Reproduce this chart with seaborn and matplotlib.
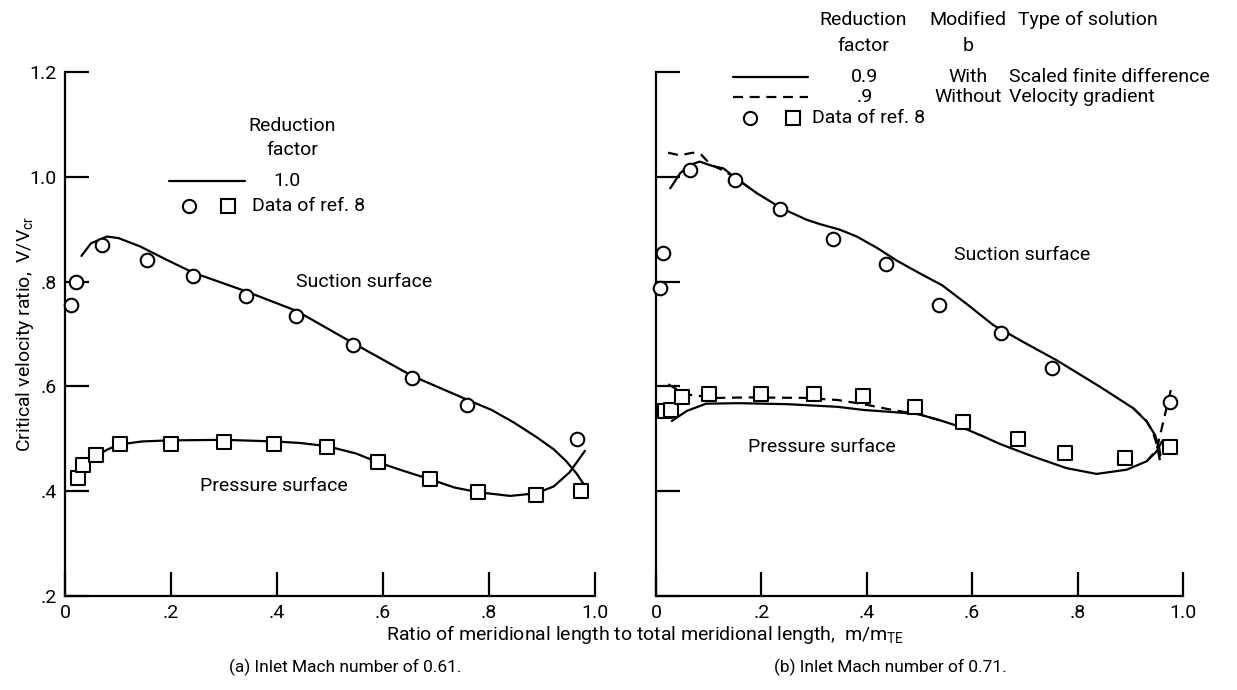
import matplotlib
matplotlib.use("Agg")
import matplotlib.pyplot as plt
import seaborn as sns
import pandas as pd

sns.set_style("ticks")
plt.rcParams["font.family"] = ["Roboto", "DejaVu Sans"]
for key in ("text.color", "axes.labelcolor", "xtick.color", "ytick.color", "axes.edgecolor"):
    plt.rcParams[key] = "black"

# ---------------- data: (a) inlet Mach number 0.61 ----------------
a_suction_x = [0.031, 0.049, 0.079, 0.101, 0.142, 0.191, 0.242, 0.340, 0.437,
               0.543, 0.655, 0.758, 0.805, 0.847, 0.890, 0.922, 0.945, 0.965, 0.981]
a_suction_y = [0.849, 0.873, 0.886, 0.883, 0.867, 0.842, 0.817, 0.782, 0.744,
               0.683, 0.620, 0.575, 0.555, 0.531, 0.503, 0.480, 0.458, 0.434, 0.410]
a_pressure_x = [0.027, 0.042, 0.057, 0.079, 0.101, 0.146, 0.198, 0.300, 0.395,
                0.444, 0.494, 0.549, 0.591, 0.638, 0.688, 0.735, 0.780, 0.840,
                0.889, 0.922, 0.952, 0.981]
a_pressure_y = [0.428, 0.453, 0.466, 0.479, 0.489, 0.495, 0.497, 0.498, 0.495,
                0.492, 0.486, 0.472, 0.455, 0.439, 0.423, 0.407, 0.398, 0.391,
                0.396, 0.409, 0.436, 0.477]
a_circle_x = [0.012, 0.021, 0.070, 0.155, 0.242, 0.342, 0.435, 0.543, 0.655,
              0.758, 0.966]
a_circle_y = [0.756, 0.800, 0.869, 0.841, 0.811, 0.772, 0.734, 0.679, 0.616,
              0.564, 0.499]
a_square_x = [0.025, 0.034, 0.058, 0.103, 0.200, 0.300, 0.395, 0.494, 0.591,
              0.688, 0.780, 0.889, 0.974]
a_square_y = [0.426, 0.450, 0.469, 0.490, 0.491, 0.494, 0.491, 0.484, 0.455,
              0.423, 0.399, 0.393, 0.400]

# ---------------- data: (b) inlet Mach number 0.71 ----------------
b_suction_x = [0.027, 0.046, 0.065, 0.083, 0.106, 0.128, 0.152, 0.191, 0.238,
               0.286, 0.310, 0.349, 0.381, 0.420, 0.457, 0.500, 0.543, 0.590,
               0.640, 0.700, 0.760, 0.843, 0.906, 0.931, 0.947, 0.955, 0.957]
b_suction_y = [0.978, 1.007, 1.023, 1.029, 1.021, 1.016, 0.997, 0.969, 0.940,
               0.918, 0.910, 0.899, 0.886, 0.864, 0.840, 0.816, 0.793, 0.757,
               0.717, 0.683, 0.650, 0.599, 0.558, 0.533, 0.507, 0.482, 0.468]
b_pressure_x = [0.030, 0.058, 0.095, 0.158, 0.251, 0.345, 0.394, 0.450, 0.498,
                0.540, 0.580, 0.620, 0.653, 0.716, 0.779, 0.836, 0.893, 0.931,
                0.950, 0.960]
b_pressure_y = [0.534, 0.553, 0.567, 0.568, 0.566, 0.561, 0.555, 0.551, 0.547,
                0.535, 0.522, 0.505, 0.490, 0.466, 0.444, 0.433, 0.441, 0.457,
                0.476, 0.495]
# "without modified b" solution where it departs from the solid curves
b_suction_dash_lead_x = [0.023, 0.045, 0.070, 0.086, 0.104, 0.128, 0.152, 0.191]
b_suction_dash_lead_y = [1.046, 1.041, 1.046, 1.042, 1.023, 1.012, 0.997, 0.969]
b_suction_dash_tail_x = [0.906, 0.930, 0.942, 0.950, 0.957]
b_suction_dash_tail_y = [0.558, 0.535, 0.515, 0.490, 0.455]
b_pressure_dash_lead_x = [0.023, 0.052, 0.064, 0.114, 0.176, 0.283, 0.345,
                          0.394, 0.454, 0.498, 0.540]
b_pressure_dash_lead_y = [0.604, 0.587, 0.584, 0.578, 0.579, 0.578, 0.574,
                          0.566, 0.554, 0.547, 0.535]
b_pressure_dash_tail_x = [0.931, 0.950, 0.962, 0.979]
b_pressure_dash_tail_y = [0.457, 0.479, 0.530, 0.602]
b_circle_x = [0.007, 0.014, 0.065, 0.150, 0.236, 0.335, 0.437, 0.537, 0.654,
              0.752, 0.975]
b_circle_y = [0.787, 0.855, 1.013, 0.994, 0.939, 0.882, 0.834, 0.755, 0.702,
              0.636, 0.571]
b_square_x = [0.018, 0.029, 0.050, 0.100, 0.199, 0.299, 0.392, 0.492, 0.582,
              0.686, 0.777, 0.890, 0.975]
b_square_y = [0.553, 0.555, 0.580, 0.585, 0.586, 0.586, 0.581, 0.561, 0.533,
              0.499, 0.472, 0.463, 0.485]

x_ticks = [0.0, 0.2, 0.4, 0.6, 0.8, 1.0]
x_tick_labels = ["0", ".2", ".4", ".6", ".8", "1.0"]
y_ticks = [0.2, 0.4, 0.6, 0.8, 1.0, 1.2]
y_tick_labels = [".2", ".4", ".6", ".8", "1.0", "1.2"]

W, H = 1237, 690
FS = 14
LW = 1.6
DASH = (0, (4.5, 3))

fig = plt.figure(figsize=(W / 100, H / 100), dpi=100)
ax_a = fig.add_axes([65 / W, (H - 596) / H, 530 / W, 524 / H])
ax_b = fig.add_axes([656 / W, (H - 596) / H, 527 / W, 524 / H])


def curve(ax, xs, ys, dashed=False):
    df = pd.DataFrame({"x": xs, "y": ys})
    sns.lineplot(data=df, x="x", y="y", ax=ax, sort=False, estimator=None,
                 color="black", lw=LW, linestyle=DASH if dashed else "-",
                 zorder=2, clip_on=False)


def points(ax, xs, ys, marker):
    df = pd.DataFrame({"x": xs, "y": ys})
    sns.scatterplot(data=df, x="x", y="y", ax=ax, marker=marker, s=95,
                    facecolor="white", edgecolor="black", linewidth=1.5,
                    zorder=3, clip_on=False)


def frame(ax, show_y_labels):
    ax.set_xlim(0, 1)
    ax.set_ylim(0.2, 1.2)
    sns.despine(ax=ax)
    for s in ("left", "bottom"):
        ax.spines[s].set_linewidth(1.6)
    ax.set_xticks(x_ticks)
    ax.set_xticklabels(x_tick_labels, fontsize=FS)
    ax.set_yticks(y_ticks)
    if show_y_labels:
        ax.set_yticklabels(y_tick_labels, fontsize=FS)
    else:
        ax.set_yticklabels([])
    ax.tick_params(direction="in", length=17, width=1.6, pad=6)
    ax.set_xlabel("")
    ax.set_ylabel("")
    ax.set_facecolor("none")


# (a)
curve(ax_a, a_suction_x, a_suction_y)
curve(ax_a, a_pressure_x, a_pressure_y)
points(ax_a, a_circle_x, a_circle_y, "o")
points(ax_a, a_square_x, a_square_y, "s")
frame(ax_a, True)
ax_a.set_ylabel("Critical velocity ratio,  V/V$_{\\mathregular{cr}}$", fontsize=FS)
ax_a.yaxis.set_label_coords(-0.055, 0.5)

# (b)
curve(ax_b, b_suction_x, b_suction_y)
curve(ax_b, b_pressure_x, b_pressure_y)
curve(ax_b, b_suction_dash_lead_x, b_suction_dash_lead_y, dashed=True)
curve(ax_b, b_suction_dash_tail_x, b_suction_dash_tail_y, dashed=True)
curve(ax_b, b_pressure_dash_lead_x, b_pressure_dash_lead_y, dashed=True)
curve(ax_b, b_pressure_dash_tail_x, b_pressure_dash_tail_y, dashed=True)
points(ax_b, b_circle_x, b_circle_y, "o")
points(ax_b, b_square_x, b_square_y, "s")
frame(ax_b, False)

# annotation layer in pixel coordinates
ov = fig.add_axes([0, 0, 1, 1], zorder=10)
ov.set_xlim(0, W)
ov.set_ylim(H, 0)
ov.axis("off")


def txt(x, y, s, ha="center", size=FS):
    ov.text(x, y, s, ha=ha, va="center", fontsize=size)


def key_line(x0, x1, y, dashed=False):
    ov.plot([x0, x1], [y, y], color="black", lw=LW,
            linestyle=DASH if dashed else "-")


def key_marker(x, y, marker):
    ov.plot([x], [y], marker=marker, ms=9.5, mfc="white", mec="black", mew=1.5)


# curve labels
txt(364, 282, "Suction surface")
txt(274, 486, "Pressure surface")
txt(1022, 255, "Suction surface")
txt(822, 447, "Pressure surface")

# key, panel (a)
txt(292, 126, "Reduction")
txt(292, 150, "factor")
key_line(169, 245, 181)
txt(287, 181, "1.0")
key_marker(189, 206, "o")
key_marker(228, 206, "s")
txt(252, 206, "Data of ref. 8", ha="left")

# key, panel (b)
txt(863, 20, "Reduction")
txt(863, 46, "factor")
txt(968, 20, "Modified")
txt(968, 46, "b")
txt(1088, 20, "Type of solution")
key_line(733, 808, 77)
txt(865, 77, "0.9")
txt(968, 77, "With")
txt(1009, 77, "Scaled finite difference", ha="left")
key_line(733, 808, 97, dashed=True)
txt(865, 97, ".9")
txt(968, 97, "Without")
txt(1009, 97, "Velocity gradient", ha="left")
key_marker(750, 118, "o")
key_marker(793, 118, "s")
txt(812, 118, "Data of ref. 8", ha="left")

# shared x label and captions
txt(645, 635, "Ratio of meridional length to total meridional length,  m/m$_{\\mathregular{TE}}$")
txt(345, 667, "(a) Inlet Mach number of 0.61.", size=12.5)
txt(890, 667, "(b) Inlet Mach number of 0.71.", size=12.5)

fig.savefig("out.png", dpi=100, facecolor="white")
